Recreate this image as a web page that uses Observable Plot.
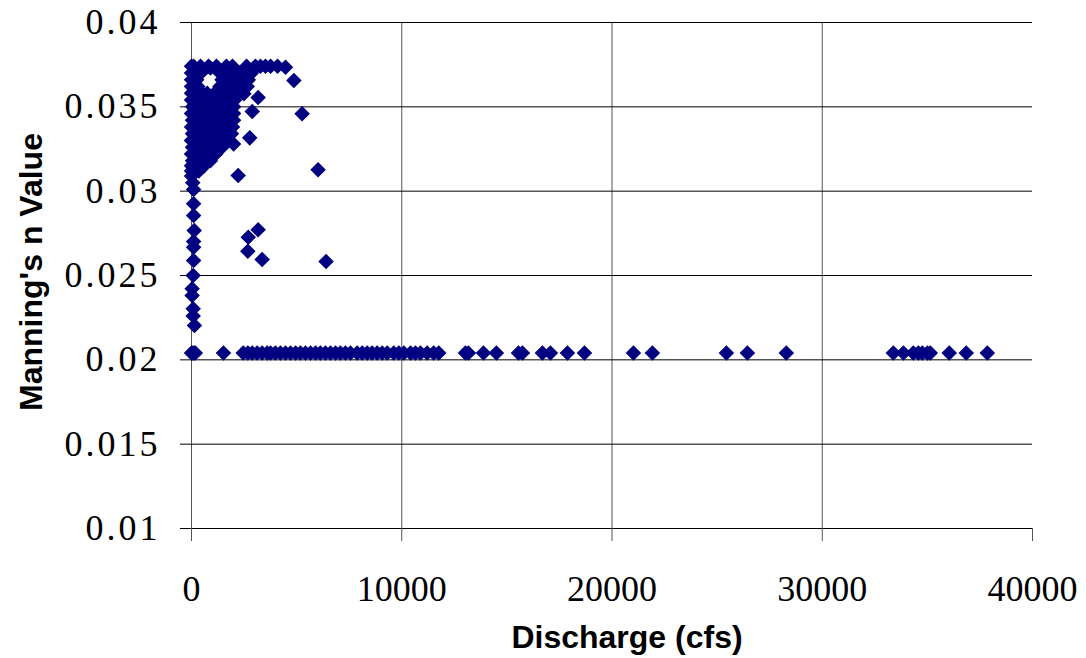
<!DOCTYPE html>
<html>
<head>
<meta charset="utf-8">
<script src="https://cdn.jsdelivr.net/npm/d3@7"></script>
<script src="https://cdn.jsdelivr.net/npm/@observablehq/plot@0.6"></script>
<style>
  html, body { margin: 0; padding: 0; background: #fff; }
  #chart { width: 1086px; height: 658px; }
</style>
</head>
<body>
<div id="chart"></div>
<script>
// ---- Axis ticks ----
const xTicks = [0, 10000, 20000, 30000, 40000];
const yTicks = [0.01, 0.015, 0.02, 0.025, 0.03, 0.035, 0.04];
const xTitle = "Discharge (cfs)";
const yTitle = "Manning's n Value";

// ---- Floor row: n ≈ 0.0204 across discharges ----
const floorN = 0.0204;
const floorQ = [0, 60, 120, 180, 1520, 2460, 2680, 2890, 3120, 3360, 3600, 3760, 3990, 4230,
  4470, 4710, 4950, 5180, 5420, 5660, 5900, 6130, 6370, 6610, 6850, 7080, 7320, 7560, 7880,
  8120, 8360, 8590, 8830, 9070, 9310, 9620, 9860, 10100, 10420, 10650, 10890, 11210, 11520,
  11760, 13030, 13170, 13885, 14500, 15550, 15740, 16690, 17070, 17880, 18690, 21020, 21920,
  25440, 26440, 28290, 33380, 33860, 34330, 34570, 34760, 35000, 35140, 36040, 36850, 37850];

// ---- Near-zero discharge column ----
const columnQ = [100, 60, 100, 100, 130, 100, 100, 100, 80, 30, 30, 80, 80, 140, 0, 150];
const columnN = [0.0301, 0.0305, 0.02925, 0.02856, 0.02767, 0.02702, 0.02668, 0.02589, 0.0250,
  0.02421, 0.02381, 0.02303, 0.0226, 0.02204, 0.0309, 0.0311];

// ---- Dense low-discharge cluster, read row by row ----
const clusterN = [0.0374, 0.0373, 0.0370, 0.0366, 0.0362, 0.0358, 0.0354, 0.0350, 0.0346,
  0.0342, 0.0338, 0.0334, 0.0330, 0.0326, 0.0322, 0.0318, 0.0315, 0.0312];
const clusterQ = [
  [0, 100, 430, 810, 1190, 1660, 1950, 2620, 3040, 3280, 3520, 3760, 4090],
  [900],
  [0, 200, 450, 1350, 1650, 1950, 2250, 2550, 2850],
  [0, 250, 1450, 1800, 2100, 2400, 2700],
  [0, 300, 1350, 1700, 2000, 2300, 2650],
  [0, 250, 500, 750, 1100, 1400, 1700, 2000, 2200],
  [0, 200, 450, 700, 950, 1200, 1500, 1800, 2050],
  [50, 300, 550, 800, 1050, 1300, 1550, 1800, 2000],
  [0, 250, 500, 750, 1000, 1250, 1500, 1750, 2000],
  [50, 300, 550, 800, 1050, 1300, 1550, 1800, 2000],
  [0, 250, 500, 750, 1000, 1250, 1500, 1750, 1950],
  [50, 300, 550, 800, 1050, 1300, 1550, 1800, 1900],
  [0, 250, 500, 750, 1000, 1250, 1500, 1700],
  [50, 300, 550, 800, 1050, 1250, 1450],
  [0, 250, 500, 750, 1000, 1150],
  [50, 300, 550, 800, 900],
  [0, 200, 400, 600],
  [0, 150, 350]
];

// ---- Scattered outliers ----
const scatterQ = [4470, 4870, 5260, 6020, 2220, 2770, 2890, 3170, 2490, 2000, 2700, 3170, 2680, 3360, 6400];
const scatterN = [0.03735, 0.03656, 0.03459, 0.03127, 0.03093, 0.03316, 0.03472, 0.03555, 0.03577,
  0.0328, 0.02727, 0.02771, 0.02644, 0.02595, 0.02583];

const points = [
  ...floorQ.map(q => ({q, n: floorN})),
  ...columnQ.map((q, i) => ({q, n: columnN[i]})),
  ...clusterN.flatMap((n, i) => clusterQ[i].map(q => ({q, n}))),
  ...scatterQ.map((q, i) => ({q, n: scatterN[i]}))
];

const chart = Plot.plot({
  width: 1086,
  height: 658,
  marginLeft: 191,
  marginRight: 54,
  marginTop: 22,
  marginBottom: 130,
  style: {fontFamily: "'Liberation Serif', serif", background: "#fff", color: "#000"},
  x: {domain: [0, 40000]},
  y: {domain: [0.01, 0.04]},
  marks: [
    Plot.ruleX(xTicks.slice(0, 4), {stroke: "#555", strokeWidth: 1}),
    Plot.ruleY(yTicks, {stroke: "#000", strokeWidth: 1}),
    Plot.axisY({ticks: yTicks, tickSize: 11, tickPadding: 20, tickFormat: d3.format(".3~f"),
      label: null, fontSize: 36, stroke: "#000", fill: "#000"}),
    Plot.axisX({ticks: xTicks, tickSize: 13, tickPadding: 34, tickFormat: d => String(d),
      label: null, fontSize: 36, stroke: "#555", fill: "#000"}),
    Plot.dot(points, {x: "q", y: "n", symbol: "diamond2", r: 7, fill: "#000080", stroke: "none"})
  ]
});

const svg = d3.select(chart);
svg.selectAll("g[aria-label='y-axis tick label'] text").style("letter-spacing", "3px");
svg.append("text")
  .attr("x", 627).attr("y", 648)
  .attr("text-anchor", "middle")
  .style("font-family", "'Liberation Sans', Arial, sans-serif")
  .style("font-weight", "bold").style("font-size", "32px")
  .text(xTitle);
svg.append("text")
  .attr("transform", "translate(42,272) rotate(-90)")
  .attr("text-anchor", "middle")
  .style("font-family", "'Liberation Sans', Arial, sans-serif")
  .style("font-weight", "bold").style("font-size", "32px")
  .text(yTitle);

document.getElementById("chart").appendChild(chart);
</script>
</body>
</html>
